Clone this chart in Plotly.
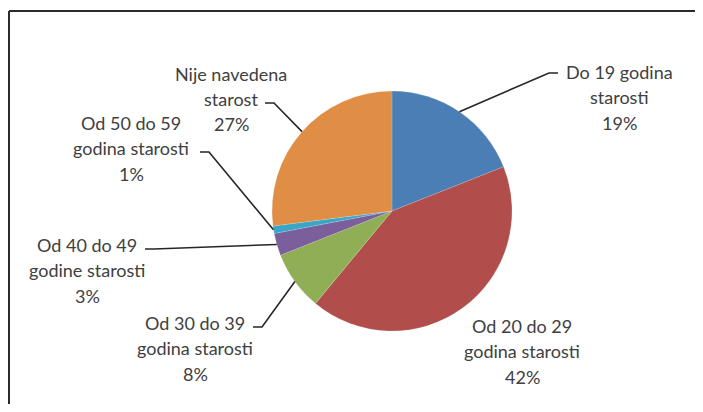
import math
import plotly.graph_objects as go

# ---- data ----
categories = [
    "Do 19 godina\nstarosti",
    "Od 20 do 29\ngodina starosti",
    "Od 30 do 39\ngodina starosti",
    "Od 40 do 49\ngodine starosti",
    "Od 50 do 59\ngodina starosti",
    "Nije navedena\nstarost",
]
values = [19, 42, 8, 3, 1, 27]
colors = ["#4A7EB5", "#B14E4B", "#8FAE55", "#7B5E9C", "#3AA6C6", "#E08D45"]

# ---- layout (page pixels; page body has an 8px margin) ----
OFF = 8
W, H = 703 - OFF, 412 - 2 * OFF
CX, CY, R = 392, 211, 120
label_centers = [(619, 97), (522, 351), (195, 348), (87, 270), (131, 148), (231, 99)]
leader_starts = [(558, 73), None, (253, 327), (145, 249), (200, 152), (265, 103)]
LINE_GAP = 25.5


def px(x):
    return (x - OFF) / W


def py(y):
    return 1 - (y - OFF) / H


fig = go.Figure(
    go.Pie(
        labels=[c.replace("\n", " ") for c in categories],
        values=values,
        sort=False,
        direction="clockwise",
        rotation=0,
        marker=dict(colors=colors, line=dict(color="rgba(255,255,255,0.3)", width=0.5)),
        textinfo="none",
        hoverinfo="label+percent",
        domain=dict(x=[px(CX - R), px(CX + R)], y=[py(CY + R), py(CY - R)]),
        showlegend=False,
    )
)

total = sum(values)
annotations = []
shapes = []
cum = 0
for i, (cat, v) in enumerate(zip(categories, values)):
    mid = (cum + v / 2) / total * 2 * math.pi
    cum += v
    ax = CX + R * math.sin(mid)
    ay = CY - R * math.cos(mid)
    pct = f"{round(v / total * 100)}%"
    lines = cat.split("\n") + [pct]
    lx, ly = label_centers[i]
    n = len(lines)
    for k, t in enumerate(lines):
        yk = ly + (k - (n - 1) / 2) * LINE_GAP
        annotations.append(
            dict(
                x=px(lx), y=py(yk), xref="paper", yref="paper",
                text=t, showarrow=False, xanchor="center", yanchor="middle",
                font=dict(family="Lato", size=18, color="#404040"),
            )
        )
    if leader_starts[i] is not None:
        sx, sy = leader_starts[i]
        ex = sx - 9 if sx > CX else sx + 9
        path = f"M {px(sx)},{py(sy)} L {px(ex)},{py(sy)} L {px(ax)},{py(ay)}"
        shapes.append(dict(type="path", xref="paper", yref="paper", path=path,
                           line=dict(color="#262626", width=1.6)))

# frame (left and top edges)
shapes.append(dict(type="line", xref="paper", yref="paper",
                   x0=px(9), x1=px(9), y0=py(412), y1=py(11),
                   line=dict(color="#2b2b2b", width=2)))
shapes.append(dict(type="line", xref="paper", yref="paper",
                   x0=px(9), x1=px(703), y0=py(11), y1=py(11),
                   line=dict(color="#2b2b2b", width=2)))

fig.update_layout(
    width=W, height=H,
    margin=dict(l=0, r=0, t=0, b=0),
    paper_bgcolor="white", plot_bgcolor="white",
    annotations=annotations, shapes=shapes,
    modebar=dict(bgcolor="rgba(0,0,0,0)", color="rgba(0,0,0,0)", activecolor="rgba(0,0,0,0)"),
)

fig.write_html("out.html")
